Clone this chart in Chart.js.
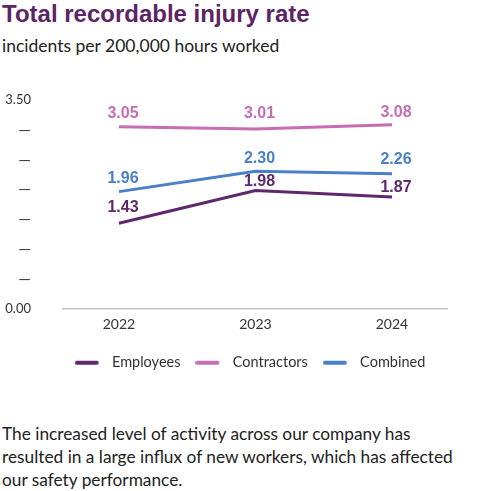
<!DOCTYPE html>
<html>
<head>
<meta charset="utf-8">
<script src="https://cdn.jsdelivr.net/npm/chart.js@4/dist/chart.umd.min.js"></script>
<style>
  body { margin: 0; width: 500px; height: 491px; background: #fff; position: relative; overflow: hidden; }
  .title { position: absolute; left: 2px; top: 0; margin: 0; font: bold 24px/28px "Liberation Sans", Arial, sans-serif; color: #5c2466; white-space: nowrap; }
  .sub { position: absolute; left: 2px; top: 35px; font: 17.5px/22px Lato, sans-serif; color: #222; white-space: nowrap; }
  .wrap { position: absolute; left: 0; top: 60px; width: 500px; height: 330px; }
  .note { position: absolute; left: 2px; top: 422px; width: 498px; font: 17.3px/23px Lato, sans-serif; color: #222; white-space: nowrap; }
</style>
</head>
<body>
<h1 class="title">Total recordable injury rate</h1>
<div class="sub">incidents per 200,000 hours worked</div>
<div class="wrap"><canvas id="myChart"></canvas></div>
<div class="note">The increased level of activity across our company has<br>resulted in a large influx of new workers, which has affected<br>our safety performance.</div>
<script>
var years = [2022, 2023, 2024];
var employees = [1.43, 1.98, 1.87];
var contractors = [3.05, 3.01, 3.08];
var combined = [1.96, 2.30, 2.26];
var yTicks = ["0.00", "—", "—", "—", "—", "—", "—", "3.50"];

var colors = { employees: "#5e286c", contractors: "#c76db4", combined: "#4a80c8" };
// how far above each point its value sits (px)
var lift = { employees: [16, 9, 9], contractors: [13, 15, 12], combined: [13, 13, 14] };

function points(vals) {
  return vals.map(function (v, i) { return { x: years[i], y: v }; });
}

// little legend marker: 24px line inside a 30px box, so the gap to the text is wider
function marker(color) {
  var c = document.createElement("canvas");
  c.width = 30; c.height = 6;
  var g = c.getContext("2d");
  g.strokeStyle = color; g.lineWidth = 4; g.lineCap = "round";
  g.beginPath(); g.moveTo(2, 3); g.lineTo(22, 3); g.stroke();
  return c;
}

var valueLabels = {
  id: "valueLabels",
  afterDatasetsDraw: function (chart) {
    var ctx = chart.ctx;
    chart.data.datasets.forEach(function (ds, i) {
      var meta = chart.getDatasetMeta(i);
      meta.data.forEach(function (pt, j) {
        ctx.save();
        ctx.font = 'bold 16px "Liberation Sans", Arial, sans-serif';
        ctx.fillStyle = ds.borderColor;
        ctx.textAlign = "center";
        ctx.textBaseline = "middle";
        ctx.fillText(ds.data[j].y.toFixed(2), pt.x + 4, pt.y - ds.lift[j]);
        ctx.restore();
      });
    });
  }
};

function line(label, key, vals) {
  return {
    label: label,
    data: points(vals),
    borderColor: colors[key],
    backgroundColor: colors[key],
    borderWidth: 3,
    pointRadius: 0,
    tension: 0,
    lift: lift[key]
  };
}

var chart = document.getElementById("myChart").getContext("2d");
var myChart = new Chart(chart, {
  type: "line",
  data: {
    datasets: [
      line("Employees", "employees", employees),
      line("Contractors", "contractors", contractors),
      line("Combined", "combined", combined)
    ]
  },
  options: {
    responsive: true,
    maintainAspectRatio: false,
    animation: false,
    layout: { padding: { top: 37, right: 0, left: 0, bottom: 10 } },
    plugins: {
      tooltip: { enabled: false },
      legend: {
        position: "bottom",
        labels: {
          usePointStyle: true,
          pointStyleWidth: 30,
          padding: 15,
          color: "#333",
          font: { family: "Lato", size: 14.5 },
          generateLabels: function (c) {
            return c.data.datasets.map(function (ds, i) {
              return {
                text: ds.label,
                pointStyle: marker(ds.borderColor),
                fillStyle: ds.borderColor,
                strokeStyle: ds.borderColor,
                lineWidth: 0,
                fontColor: "#333",
                datasetIndex: i
              };
            });
          }
        }
      }
    },
    scales: {
      x: {
        type: "linear",
        min: 2021.59,
        max: 2024.403,
        afterFit: function (s) { s.height = 32; },
        grid: { display: false, drawTicks: false, tickLength: 0 },
        border: { display: true, color: "#c4c4c4", width: 1.5 },
        ticks: {
          stepSize: 1,
          includeBounds: false,
          padding: 8,
          color: "#333",
          font: { family: "Lato", size: 14 },
          callback: function (v) { return years.indexOf(v) >= 0 ? String(v) : ""; }
        }
      },
      y: {
        min: 0,
        max: 3.5,
        afterFit: function (s) { s.width = 63; },
        grid: { display: false, drawTicks: false, tickLength: 0 },
        border: { display: false },
        ticks: {
          stepSize: 0.5,
          padding: 32,
          color: "#333",
          font: function (ctx) {
            var i = ctx.index;
            return { family: "Lato", size: (i === 0 || i === yTicks.length - 1) ? 13 : 16 };
          },
          callback: function (v, i) { return yTicks[i]; }
        }
      },
      // empty axis on the right, only to leave the blank margin there
      spare: {
        type: "linear",
        position: "right",
        afterFit: function (s) { s.width = 53; },
        grid: { display: false },
        border: { display: false },
        ticks: { display: false }
      }
    }
  },
  plugins: [valueLabels]
});
</script>
</body>
</html>
